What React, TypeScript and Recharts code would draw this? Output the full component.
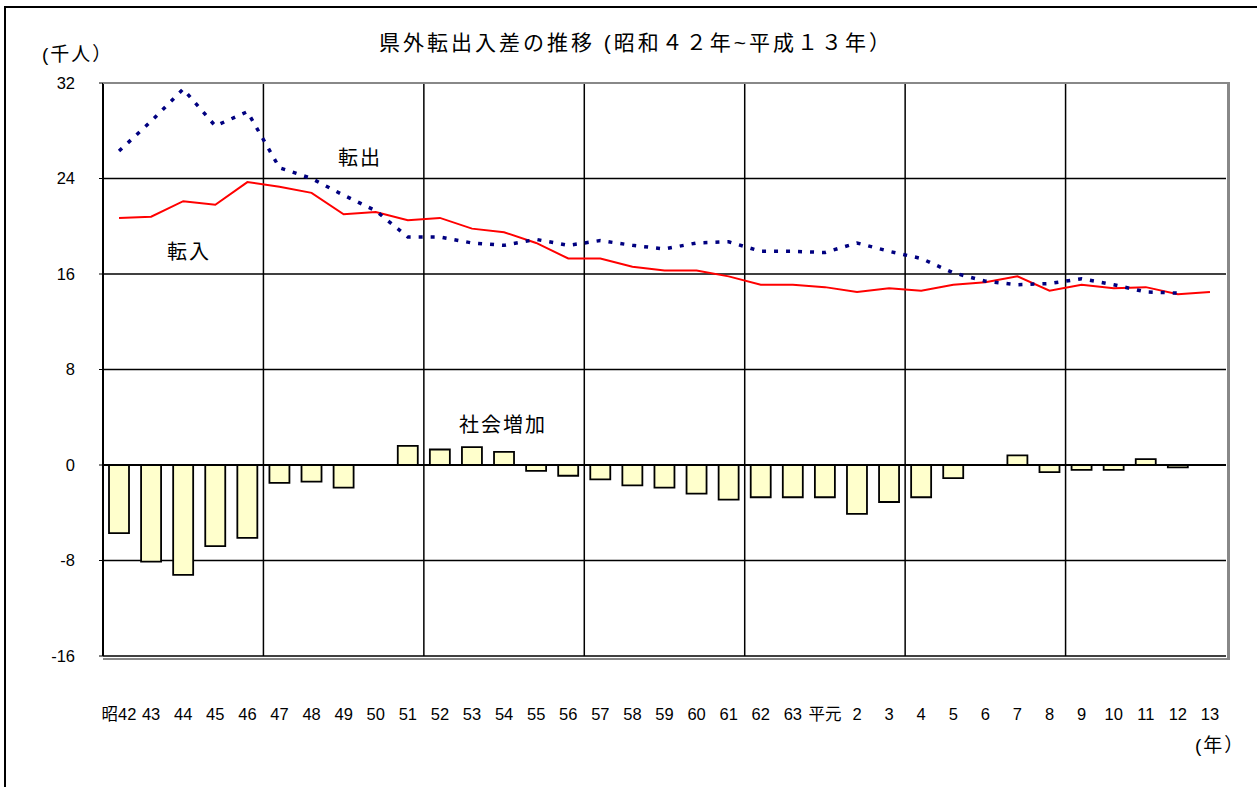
import React from "react";
import {
  ComposedChart,
  Bar,
  Line,
  XAxis,
  YAxis,
  CartesianGrid,
  ReferenceLine,
} from "recharts";

const FONT = "'Liberation Sans', Arial, 'Noto Sans CJK JP', sans-serif";

// 年次 (昭和42年〜平成13年)
const years = [
  "昭42", "43", "44", "45", "46", "47", "48", "49", "50", "51", "52", "53",
  "54", "55", "56", "57", "58", "59", "60", "61", "62", "63", "平元", "2",
  "3", "4", "5", "6", "7", "8", "9", "10", "11", "12", "13",
];

// 転入 (千人)
const tennyu = [
  20.7, 20.8, 22.1, 21.8, 23.7, 23.3, 22.8, 21.0, 21.2, 20.5, 20.7, 19.8,
  19.5, 18.6, 17.3, 17.3, 16.6, 16.3, 16.3, 15.8, 15.1, 15.1, 14.9, 14.5,
  14.8, 14.6, 15.1, 15.3, 15.8, 14.6, 15.1, 14.8, 14.9, 14.3, 14.5,
];

// 転出 (千人)
const tenshutsu = [
  26.3, 28.8, 31.5, 28.4, 29.6, 24.9, 24.0, 22.6, 21.3, 19.1, 19.1, 18.6,
  18.4, 18.9, 18.4, 18.8, 18.4, 18.1, 18.6, 18.7, 17.9, 17.9, 17.8, 18.6,
  17.9, 17.3, 16.1, 15.4, 15.1, 15.2, 15.6, 15.1, 14.5, 14.4, null,
];

// 社会増加 (千人)
const shakai = [
  -5.7, -8.1, -9.2, -6.8, -6.1, -1.5, -1.4, -1.9, 0, 1.6, 1.3, 1.5,
  1.1, -0.5, -0.9, -1.2, -1.7, -1.9, -2.4, -2.9, -2.7, -2.7, -2.7, -4.1,
  -3.1, -2.7, -1.1, 0, 0.8, -0.6, -0.4, -0.4, 0.5, -0.2, null,
];

const yTicks = [-16, -8, 0, 8, 16, 24, 32];

const data = years.map((label, i) => ({
  label,
  tennyu: tennyu[i],
  tenshutsu: tenshutsu[i],
  shakai: shakai[i],
}));

const PLOT = { left: 103, top: 83, right: 1226, bottom: 656 };

function XTick(props: any) {
  const { x, payload } = props;
  return (
    <text
      x={x}
      y={PLOT.bottom + 64}
      textAnchor="middle"
      fontSize={16.5}
      fontFamily={FONT}
      fill="#000"
    >
      {payload.value}
    </text>
  );
}

const txt = (left: number, top: number, size: number, extra?: any) => ({
  position: "absolute" as const,
  left,
  top,
  fontSize: size,
  fontFamily: FONT,
  color: "#000",
  whiteSpace: "nowrap" as const,
  lineHeight: 1,
  ...extra,
});

export default function App() {
  const n = years.length;
  return (
    <div
      style={{
        position: "absolute",
        left: 0,
        top: 0,
        width: 1257,
        height: 787,
        overflow: "hidden",
        background: "#fff",
      }}
    >
      <div
        style={{
          position: "absolute",
          left: 4,
          top: 6,
          width: 1300,
          height: 900,
          border: "2px solid #000",
        }}
      />
      <div style={{ position: "absolute", left: 0, top: 0 }}>
        <ComposedChart
          width={1257}
          height={787}
          data={data}
          margin={{ top: PLOT.top, right: 1257 - PLOT.right, bottom: 0, left: 0 }}
        >
          <CartesianGrid
            stroke="#000"
            strokeWidth={1.5}
            verticalCoordinatesGenerator={(p: any) => {
              const left = p?.offset?.left ?? PLOT.left;
              const w = p?.offset?.width ?? PLOT.right - PLOT.left;
              return [5, 10, 15, 20, 25, 30].map((k) => left + (k * w) / n);
            }}
          />
          <XAxis
            dataKey="label"
            interval={0}
            axisLine={false}
            tickLine={false}
            height={787 - PLOT.bottom}
            tick={<XTick />}
          />
          <YAxis
            width={PLOT.left}
            domain={[-16, 32]}
            ticks={yTicks}
            allowDataOverflow
            axisLine={{ stroke: "#000", strokeWidth: 2 }}
            tickLine={{ stroke: "#000" }}
            tickSize={4}
            tickMargin={24}
            tick={{ fontSize: 16.5, fill: "#000", fontFamily: FONT }}
          />
          <Bar
            dataKey="shakai"
            fill="#FFFFCC"
            stroke="#000"
            strokeWidth={1.8}
            barSize={20}
            isAnimationActive={false}
          />
          <ReferenceLine y={0} stroke="#000" strokeWidth={2} />
          <Line
            type="linear"
            dataKey="tennyu"
            stroke="#FF0000"
            strokeWidth={2}
            dot={false}
            isAnimationActive={false}
          />
          <Line
            type="linear"
            dataKey="tenshutsu"
            stroke="#000080"
            strokeWidth={3.5}
            strokeDasharray="4 8"
            dot={false}
            isAnimationActive={false}
          />
        </ComposedChart>
      </div>
      <div
        style={{
          position: "absolute",
          left: PLOT.left,
          top: PLOT.top - 1,
          width: PLOT.right - PLOT.left + 1,
          height: PLOT.bottom - PLOT.top + 1,
          borderTop: "2px solid #888",
          borderRight: "3px solid #888",
          borderBottom: "2px solid #888",
          pointerEvents: "none",
        }}
      />
      <div style={txt(636, 32, 21, { transform: "translateX(-50%)", letterSpacing: 3 })}>
        県外転出入差の推移 (昭和４２年~平成１３年）
      </div>
      <div style={txt(42, 45, 19, { letterSpacing: 2 })}>(千人）</div>
      <div style={txt(1195, 736, 19, { letterSpacing: 2 })}>(年）</div>
      <div style={txt(338, 148, 20, { letterSpacing: 2 })}>転出</div>
      <div style={txt(167, 242, 20, { letterSpacing: 2 })}>転入</div>
      <div style={txt(459, 415, 20, { letterSpacing: 2 })}>社会増加</div>
    </div>
  );
}
